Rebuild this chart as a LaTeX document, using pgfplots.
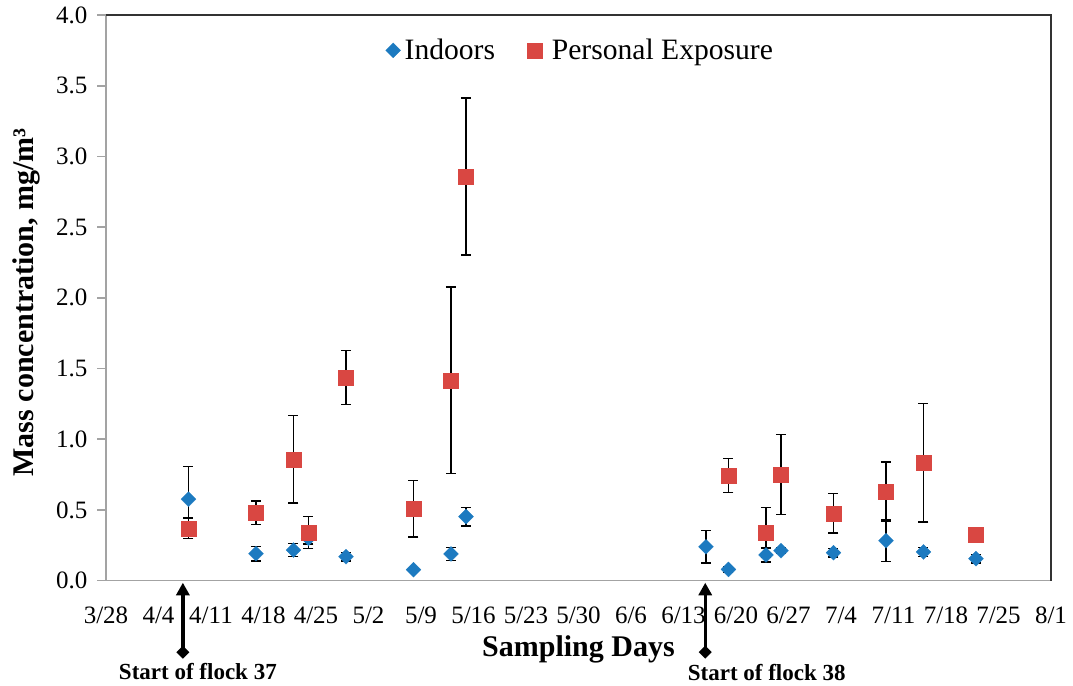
\documentclass[border=0pt]{standalone}
\usepackage{fontspec}
\setmainfont{Liberation Serif}
\usepackage{pgfplots}
\pgfplotsset{compat=1.18}
\usepackage{pgfplotstable}
\usetikzlibrary{arrows.meta}

\definecolor{indoor}{RGB}{28,122,192}
\definecolor{personal}{RGB}{217,71,66}
\definecolor{axgray}{RGB}{163,163,163}

% day = days after 3/28
\pgfplotstableread{
day val err
11 0.576 0.230
20 0.191 0.052
25 0.217 0.045
27 0.300 0.040
32 0.170 0.030
41 0.078 0.000
46 0.189 0.045
48 0.453 0.065
80 0.240 0.115
83 0.080 0.020
88 0.182 0.050
90 0.212 0.020
97 0.198 0.030
104 0.283 0.147
109 0.203 0.030
116 0.156 0.030
}\indoors

\pgfplotstableread{
day val err
11 0.370 0.073
20 0.481 0.083
25 0.858 0.310
27 0.342 0.113
32 1.436 0.190
41 0.509 0.200
46 1.417 0.660
48 2.857 0.555
83 0.743 0.120
88 0.342 0.177
90 0.750 0.284
97 0.477 0.139
104 0.630 0.210
109 0.835 0.420
116 0.328 0.020
}\personal

\begin{document}
\begin{tikzpicture}
\useasboundingbox (-53pt,-52.65pt) rectangle (483.5pt,290.35pt);
\begin{axis}[
  scale only axis,
  width=472.5pt, height=282.85pt,
  xmin=0, xmax=126, ymin=0, ymax=4,
  clip=false,
  axis line style={draw=none},
  xtick={0,7,...,126},
  xticklabels={3/28,4/4,4/11,4/18,4/25,5/2,5/9,5/16,5/23,5/30,6/6,6/13,6/20,6/27,7/4,7/11,7/18,7/25,8/1},
  ytick={0,0.5,1,1.5,2,2.5,3,3.5,4},
  xtick pos=bottom, ytick pos=left,
  tick align=outside,
  major tick length=4.3pt,
  xtick style={draw=none},
  ytick style={draw=axgray, line width=0.8pt},
  /pgf/number format/assume math mode=true,
  yticklabel style={/pgf/number format/fixed, /pgf/number format/fixed zerofill,
    /pgf/number format/precision=1, xshift=-1.5pt},
  tick label style={font=\fontsize{12.5}{14}\selectfont},
  xticklabel style={yshift=-5.5pt},
  xlabel={Sampling Days},
  xlabel style={font=\bfseries\fontsize{15}{18}\selectfont,
    at={(axis description cs:0.5,0)}, anchor=base, yshift=-38pt},
  ylabel={Mass concentration, mg/m³},
  ylabel style={font=\bfseries\fontsize{15}{18}\selectfont,
    at={([xshift=-36.4pt]axis description cs:0,0.492)}, anchor=base},
  legend style={at={(axis description cs:0.503,0.9375)}, anchor=center,
    draw=none, fill=none, legend columns=2,
    font=\fontsize{14.8}{18}\selectfont,
    /tikz/every even column/.append style={column sep=14pt}},
  legend image code/.code={\draw[#1] plot coordinates {(0.22cm,0cm)};},
]

\addplot[color=indoor, only marks, mark=square*, mark size=2.65pt,
  mark options={rotate=45, fill=indoor, draw=indoor, line width=0.1pt},
  error bars/.cd, y dir=both, y explicit,
  error bar style={black, line width=0.7pt},
  error mark options={rotate=90, black, line width=0.7pt, mark size=2.5pt}]
  table[x=day, y=val, y error=err] {\indoors};
\addlegendentry{Indoors}

\addplot[color=personal, only marks, mark=square*, mark size=3.7pt,
  mark options={fill=personal, draw=personal, line width=0.1pt},
  error bars/.cd, y dir=both, y explicit,
  error bar style={black, line width=0.7pt},
  error mark options={rotate=90, black, line width=0.7pt, mark size=2.5pt}]
  table[x=day, y=val, y error=err] {\personal};
\addlegendentry{\hspace{3pt}Personal Exposure}

\draw[axgray, line width=0.8pt] (rel axis cs:0,1) -- (rel axis cs:0,0) -- (rel axis cs:1,0);
\draw[black!80, line width=0.8pt] (rel axis cs:0,1) -- (rel axis cs:1,1) -- (rel axis cs:1,0);

\draw[line width=1.7pt, {Diamond[width=6.5pt,length=6.5pt]}-{Triangle[width=6.5pt,length=6.3pt]}]
  ([yshift=-39pt]axis cs:10.25,0) -- ([yshift=-1pt]axis cs:10.25,0);
\draw[line width=1.7pt, {Diamond[width=6.5pt,length=6.5pt]}-{Triangle[width=6.5pt,length=6.3pt]}]
  ([yshift=-39pt]axis cs:79.9,0) -- ([yshift=-1pt]axis cs:79.9,0);
\node[font=\bfseries\fontsize{11.5}{13}\selectfont, anchor=base]
  at ([yshift=-49.2pt]axis cs:12.25,0) {Start of flock 37};
\node[font=\bfseries\fontsize{11.5}{13}\selectfont, anchor=base]
  at ([yshift=-49.7pt]axis cs:88.1,0) {Start of flock 38};
\end{axis}
\end{tikzpicture}
\end{document}
